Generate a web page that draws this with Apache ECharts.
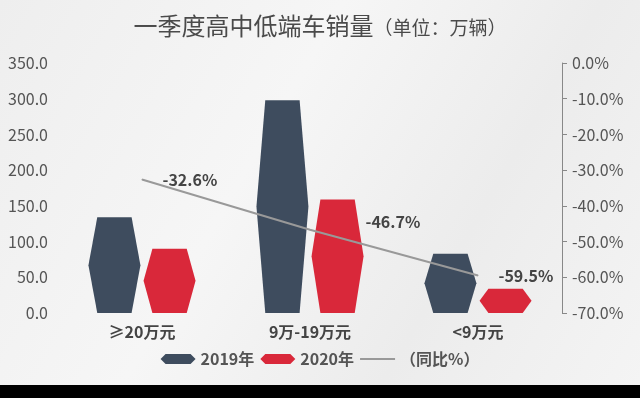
<!DOCTYPE html>
<html lang="zh">
<head>
    <meta charset="UTF-8">
    <title>一季度高中低端车销量</title>
    <script src="https://cdn.jsdelivr.net/npm/echarts@6/dist/echarts.min.js"></script>
    <style>
        html, body { margin: 0; padding: 0; background: #000; }
        #chart {
            width: 640px;
            height: 385px;
            background: linear-gradient(120deg, #eeeeee 0%, #f6f6f6 40%, #ececec 70%, #f4f4f4 100%);
        }
    </style>
</head>
<body>
<div id="chart"></div>
<script>
    // 数据
    const categories = ['≥20万元', '9万-19万元', '<9万元'];
    const sales2019 = [134, 298, 83];
    const sales2020 = [90, 159, 34];
    const yoyRatio = [-32.6, -46.7, -59.5];

    const hexV = 'path://M17,0 L83,0 L100,50 L83,100 L17,100 L0,50 Z';
    const hexH = 'path://M0,5 L5,0 L30,0 L35,5 L30,10 L5,10 Z';
    const lineIcon = 'path://M0,4 L35,4 L35,6 L0,6 Z';

    const chart = echarts.init(document.getElementById('chart'));
    const font = '"Noto Sans CJK SC", "Noto Sans", sans-serif';

    chart.setOption({
        animation: false,
        textStyle: { fontFamily: font },
        title: {
            text: '{a|一季度高中低端车销量}{b|（单位：万辆）}',
            left: 'center',
            top: 9,
            textStyle: {
                fontWeight: 'normal',
                rich: {
                    a: { fontSize: 24, color: '#4a4a4a', fontWeight: 'normal', fontFamily: font },
                    b: { fontSize: 19, color: '#4a4a4a', fontWeight: 'normal', fontFamily: font, padding: [3, 0, 0, 0] }
                }
            }
        },
        legend: {
            bottom: 13,
            left: 'center',
            itemWidth: 35,
            itemHeight: 10,
            itemGap: 6,
            textStyle: { fontSize: 16, fontWeight: 'bold', color: '#555', fontFamily: font },
            data: [
                { name: '2019年', icon: hexH },
                { name: '2020年', icon: hexH },
                { name: '（同比%）', icon: lineIcon }
            ]
        },
        grid: { left: 58, right: 78, top: 63, bottom: 72 },
        xAxis: {
            type: 'category',
            data: categories,
            axisLine: { show: false },
            axisTick: { show: false },
            axisLabel: { fontSize: 16, fontWeight: 'bold', color: '#444', margin: 11 }
        },
        yAxis: [
            {
                type: 'value',
                min: 0, max: 350, interval: 50,
                splitLine: { show: false },
                axisLine: { show: false },
                axisTick: { show: false },
                axisLabel: {
                    fontSize: 16, color: '#555', margin: 10,
                    formatter: v => v.toFixed(1)
                }
            },
            {
                type: 'value',
                min: -70, max: 0, interval: 10,
                splitLine: { show: false },
                axisLine: { show: true, lineStyle: { color: '#888' } },
                axisTick: { show: true, length: 5, lineStyle: { color: '#888' } },
                axisLabel: {
                    fontSize: 16, color: '#555', margin: 10,
                    formatter: v => v.toFixed(1) + '%'
                }
            }
        ],
        series: [
            {
                name: '2019年',
                type: 'pictorialBar',
                symbol: hexV,
                symbolKeepAspect: false,
                barWidth: 52,
                barGap: '6%',
                itemStyle: { color: '#3e4c5e' },
                data: sales2019
            },
            {
                name: '2020年',
                type: 'pictorialBar',
                symbol: hexV,
                symbolKeepAspect: false,
                barWidth: 52,
                barGap: '6%',
                itemStyle: { color: '#d9283a' },
                data: sales2020
            },
            {
                name: '（同比%）',
                type: 'line',
                yAxisIndex: 1,
                symbol: 'circle',
                symbolSize: 1,
                lineStyle: { color: '#999', width: 2 },
                itemStyle: { color: '#999' },
                label: {
                    show: true,
                    position: 'right',
                    distance: 20,
                    fontSize: 16,
                    fontWeight: 'bold',
                    color: '#444',
                    formatter: p => p.value.toFixed(1) + '%'
                },
                data: yoyRatio.map((v, i) => i === 1
                    ? { value: v, label: { offset: [35, -8] } }
                    : { value: v })
            }
        ]
    });
</script>
</body>
</html>
